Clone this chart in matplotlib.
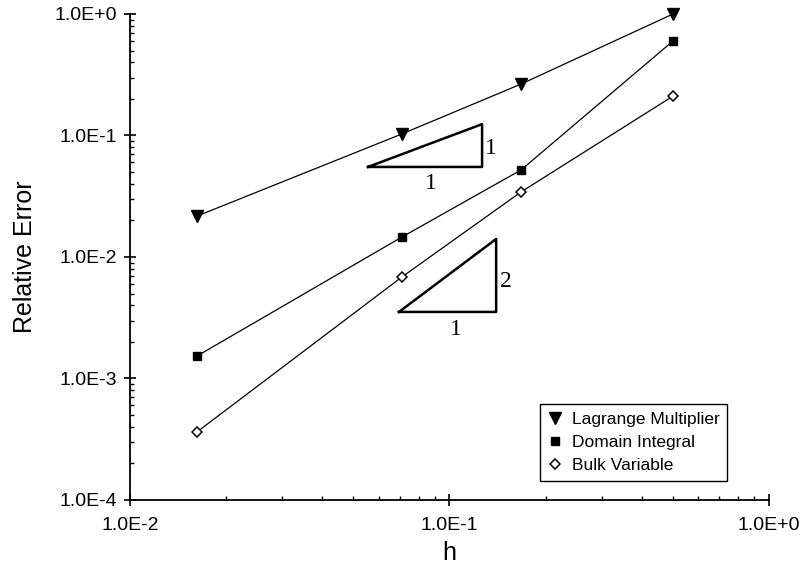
import matplotlib
matplotlib.use("Agg")
import matplotlib.pyplot as plt
from matplotlib.ticker import LogLocator, FuncFormatter, NullFormatter
import numpy as np

h = [0.0162, 0.0710, 0.1675, 0.501]
lagrange = [0.0217, 0.103, 0.265, 1.0]
domain = [0.00153, 0.0146, 0.052, 0.60]
bulk = [0.000363, 0.00685, 0.0343, 0.211]

tri1_x = [0.0556, 0.1265]
tri1_y = [0.0551, 0.124]
tri2_x = [0.0695, 0.140]
tri2_y = [0.00353, 0.01407]

plt.rcParams['font.family'] = ['Liberation Sans', 'DejaVu Sans']

fig = plt.figure(figsize=(8.06, 5.69), dpi=100)
ax = fig.add_axes([0.1613, 0.1213, 0.954 - 0.1613, 0.9754 - 0.1213])
ax.set_xscale('log')
ax.set_yscale('log')
ax.set_xlim(1e-2, 1e0)
ax.set_ylim(1e-4, 1e0)

ax.plot(h, lagrange, color='black', lw=0.9, marker='v', ms=8.5, mfc='black', mec='black',
        label='Lagrange Multiplier', clip_on=False)
ax.plot(h, domain, color='black', lw=0.9, marker='s', ms=6, mfc='black', mec='black',
        label='Domain Integral', clip_on=False)
ax.plot(h, bulk, color='black', lw=0.9, marker='D', ms=5.5, mfc='white', mec='black', mew=1.1,
        label='Bulk Variable', clip_on=False)

# slope triangles
ax.plot([tri1_x[0], tri1_x[1], tri1_x[1], tri1_x[0]],
        [tri1_y[0], tri1_y[0], tri1_y[1], tri1_y[0]], color='black', lw=1.8)
ax.plot([tri2_x[0], tri2_x[1], tri2_x[1], tri2_x[0]],
        [tri2_y[0], tri2_y[0], tri2_y[1], tri2_y[0]], color='black', lw=1.8)
serif = ['Liberation Serif', 'DejaVu Serif']
ax.text(np.sqrt(tri1_x[0] * tri1_x[1]) * 1.04, tri1_y[0] * 0.9, '1', family=serif,
        fontsize=17, ha='center', va='top')
ax.text(tri1_x[1] * 1.02, np.sqrt(tri1_y[0] * tri1_y[1]) * 0.95, '1', family=serif,
        fontsize=17, ha='left', va='center')
ax.text(np.sqrt(tri2_x[0] * tri2_x[1]) * 1.06, tri2_y[0] * 0.87, '1', family=serif,
        fontsize=17, ha='center', va='top')
ax.text(tri2_x[1] * 1.03, np.sqrt(tri2_y[0] * tri2_y[1]) * 0.9, '2', family=serif,
        fontsize=17, ha='left', va='center')

for s in ['top', 'right']:
    ax.spines[s].set_visible(False)
for s in ['left', 'bottom']:
    ax.spines[s].set_linewidth(1.3)

def fmt(v, pos):
    e = int(round(np.log10(v)))
    return '1.0E%s%d' % ('+' if e >= 0 else '-', abs(e))

ax.xaxis.set_major_locator(LogLocator(base=10, numticks=10))
ax.yaxis.set_major_locator(LogLocator(base=10, numticks=10))
ax.xaxis.set_major_formatter(FuncFormatter(fmt))
ax.yaxis.set_major_formatter(FuncFormatter(fmt))
ax.xaxis.set_minor_locator(LogLocator(base=10, subs=np.arange(2, 10), numticks=10))
ax.yaxis.set_minor_locator(LogLocator(base=10, subs=np.arange(2, 10), numticks=10))
ax.xaxis.set_minor_formatter(NullFormatter())
ax.yaxis.set_minor_formatter(NullFormatter())
ax.tick_params(which='major', direction='inout', length=8.5, width=1.2, labelsize=14)
ax.tick_params(which='minor', direction='in', length=2.8, width=1.0)
ax.tick_params(axis='x', which='major', pad=8)
ax.tick_params(axis='y', which='major', pad=5)

ax.set_xlabel('h', fontsize=18, labelpad=5)
ax.set_ylabel('Relative Error', fontsize=18, labelpad=13)

leg = ax.legend(loc='lower right', bbox_to_anchor=(0.935, 0.04), fontsize=12.5,
                frameon=True, fancybox=False, edgecolor='black', framealpha=1,
                handlelength=0.9, handletextpad=0.5, borderpad=0.45, labelspacing=0.45,
                borderaxespad=0.0)
leg.get_frame().set_linewidth(1.0)
for line in leg.get_lines():
    line.set_linestyle('none')

fig.savefig('out.png', dpi=100)
